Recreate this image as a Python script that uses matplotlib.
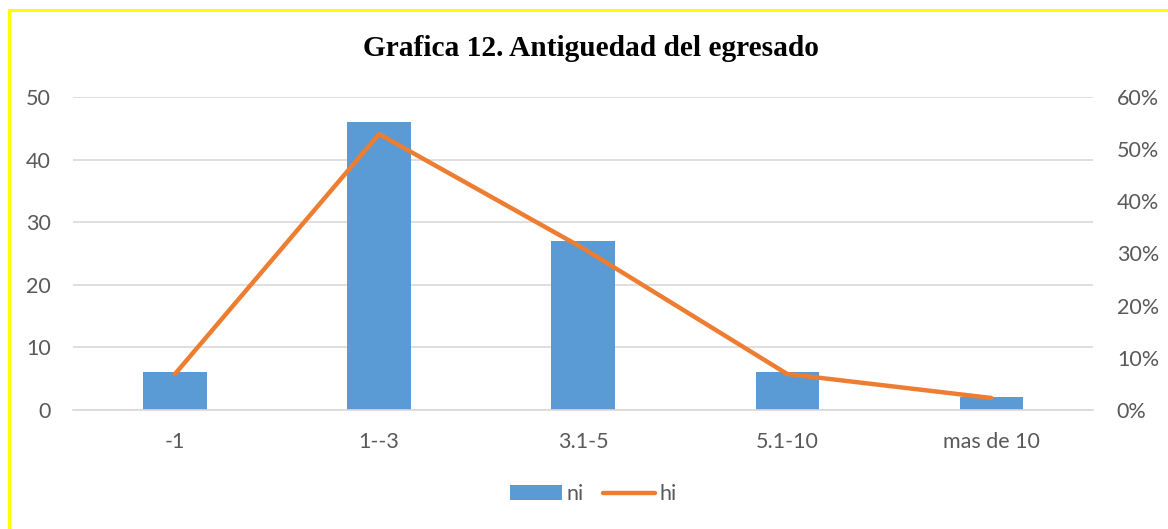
import matplotlib.pyplot as plt
from matplotlib.patches import Rectangle
from matplotlib.ticker import PercentFormatter

categorias = ['-1', '1--3', '3.1-5', '5.1-10', 'mas de 10']
ni = [6, 46, 27, 6, 2]
hi = [0.069, 0.529, 0.310, 0.069, 0.023]

plt.rcParams['font.family'] = ['Lato', 'DejaVu Sans']
gris = '#595959'

fig = plt.figure(figsize=(11.68, 5.29), dpi=100)
ax = fig.add_axes([0.0625, 0.225, 0.8735, 0.5916])
ax2 = ax.twinx()

x = range(len(categorias))
ax.bar(x, ni, width=0.31, color='#5B9BD5', label='ni', zorder=2)
ax2.plot(x, hi, color='#ED7D31', lw=3.2, label='hi', solid_capstyle='round', zorder=3)

ax.set_xlim(-0.5, 4.5)
ax.set_ylim(0, 50)
ax2.set_ylim(0, 0.6)
ax.set_yticks(range(0, 51, 10))
ax2.set_yticks([i / 10 for i in range(7)])
ax2.yaxis.set_major_formatter(PercentFormatter(1.0, decimals=0))
ax.set_xticks(list(x))
ax.set_xticklabels(categorias)

ax.grid(axis='y', color='#D9D9D9', lw=1.2, zorder=0)
ax.set_axisbelow(True)
for a in (ax, ax2):
    for s in a.spines.values():
        s.set_visible(False)
    a.tick_params(length=0, colors=gris, labelsize=15.5)
ax.spines['bottom'].set_visible(True)
ax.spines['bottom'].set_color('#D9D9D9')
ax.spines['bottom'].set_linewidth(1.2)
ax.tick_params(axis='y', pad=16)
ax.tick_params(axis='x', pad=16)
ax2.tick_params(axis='y', pad=17)

fig.text(0.506, 0.908, 'Grafica 12. Antiguedad del egresado', ha='center', va='center',
         family='Liberation Serif', fontweight='bold', fontsize=21.2, color='black')

h1, l1 = ax.get_legend_handles_labels()
h2, l2 = ax2.get_legend_handles_labels()
fig.legend(h1 + h2, l1 + l2, loc='center', bbox_to_anchor=(0.508, 0.066), ncol=2,
           frameon=False, fontsize=15.5, labelcolor=gris, handlelength=2.4,
           handletextpad=0.2, columnspacing=0.9)

fig.patches.append(Rectangle((9 / 1168, -0.1), 1.2, 1 - 10 / 529 + 0.1, transform=fig.transFigure,
                             fill=False, edgecolor='#FFFF00', lw=2.2))

fig.savefig('out.png', dpi=100)
